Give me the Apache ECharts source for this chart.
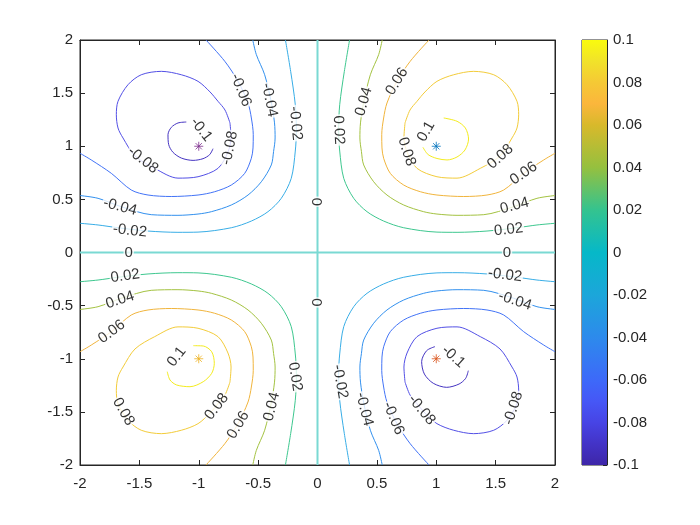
<!DOCTYPE html>
<html><head><meta charset="utf-8">
<script src="https://cdn.jsdelivr.net/npm/echarts@6/dist/echarts.min.js"></script>
<style>html,body{margin:0;padding:0;background:#fff}#c{width:700px;height:525px}</style>
</head><body><div id="c"></div>
<script>
// Contour lines (upper-right quadrant, positive levels).
// The field is odd in x and in y, so the other quadrants are the mirror images.
const c002 = [[0.27,2.0],[0.226,1.705],[0.187,1.391],[0.178,1.15],[0.187,0.955],[0.221,0.698],[0.305,0.510],[0.417,0.384],[0.557,0.296],[0.726,0.233],[1.006,0.192],[1.175,0.19],[1.427,0.202],[1.68,0.233],[1.848,0.259],[2.0,0.275]];
const c004 = [[0.545,2.0],[0.515,1.862],[0.445,1.673],[0.39,1.42],[0.362,1.22],[0.357,1.078],[0.37,0.95],[0.389,0.824],[0.473,0.666],[0.585,0.541],[0.726,0.447],[0.894,0.384],[1.006,0.362],[1.175,0.350],[1.40,0.356],[1.65,0.43],[1.848,0.510],[2.0,0.536]];
const c006 = [[0.939,2.0],[0.781,1.80],[0.669,1.611],[0.585,1.407],[0.557,1.266],[0.541,1.109],[0.543,0.984],[0.557,0.887],[0.613,0.745],[0.726,0.635],[0.866,0.572],[1.006,0.541],[1.231,0.527],[1.427,0.541],[1.568,0.588],[1.736,0.745],[1.905,0.871],[2.0,0.934]];
const c008 = [[0.737,1.219],[0.779,1.341],[0.838,1.423],[0.905,1.511],[1.006,1.611],[1.147,1.673],[1.315,1.705],[1.484,1.673],[1.596,1.579],[1.680,1.423],[1.694,1.297],[1.680,1.172],[1.638,1.078],[1.537,0.908],[1.371,0.792],[1.175,0.700],[1.006,0.713],[0.838,0.792],[0.754,0.946],[0.728,1.078],[0.737,1.219]];
// Innermost (+/-0.1) arcs, read per quadrant (gap where the label sits)
const c010UR = [[1.063,1.266],[1.175,1.235],[1.245,1.172],[1.272,1.068],[1.242,0.965],[1.175,0.899],[1.091,0.871],[1.006,0.885],[0.931,0.922],[0.888,0.99]];
const c010UL = [[-1.105,1.228],[-1.175,1.219],[-1.231,1.178],[-1.259,1.109],[-1.253,1.015],[-1.217,0.943],[-1.147,0.889],[-1.048,0.867],[-0.964,0.883],[-0.908,0.921],[-0.880,0.977]];
const c010LL = [[-1.046,-0.877],[-0.962,-0.880],[-0.891,-0.934],[-0.869,-1.043],[-0.891,-1.137],[-0.962,-1.216],[-1.074,-1.263],[-1.186,-1.247],[-1.242,-1.2],[-1.265,-1.122]];
const c010LR = [[0.989,-0.886],[0.919,-0.924],[0.877,-1.027],[0.9,-1.144],[0.975,-1.231],[1.088,-1.269],[1.192,-1.238],[1.248,-1.184],[1.270,-1.112]];
const zeroV = [[0,-2],[0,2]];
const zeroH = [[-2,0],[2,0]];

// Marked extrema
const starPts = [[1,1],[-1,1],[-1,-1],[1,-1]];

// Inline contour labels
const labelText = ['0.06','0.04','0.02','0.1','0.08','0.08','0.06','0.04','0.02','0','0',
 '-0.06','-0.04','-0.02','-0.1','-0.08','-0.08','-0.04','-0.02','0',
 '0.02','0.04','0.06','0.1','0.08','0.08','0.06','0.04','0.02','0',
 '-0.02','-0.04','-0.1','-0.08','-0.08','-0.06','-0.04','-0.02'];
const labelPos = [[0.669,1.611],[0.39,1.42],[0.178,1.153],[0.915,1.14],[0.751,0.949],[1.539,0.902],[1.736,0.745],[1.66,0.44],[1.61,0.215],[1.596,0],[0,0.478],
 [-0.645,1.529],[-0.405,1.435],[-0.185,1.216],[-0.979,1.156],[-0.74,0.984],[-1.47,0.87],[-1.663,0.43],[-1.58,0.205],[-1.59,0],
 [-1.62,-0.222],[-1.663,-0.447],[-1.733,-0.745],[-1.186,-0.981],[-1.635,-1.498],[-0.849,-1.451],[-0.667,-1.624],[-0.386,-1.451],[-0.189,-1.169],[0,-0.47],
 [1.579,-0.212],[1.663,-0.455],[1.144,-0.981],[0.877,-1.482],[1.649,-1.466],[0.64,-1.56],[0.394,-1.476],[0.189,-1.216]];
const labelAngle = [58,74,-87,60,-72,42,35,15,6,0,90,
 -68,-79,-84,-52,78,-38,-15,-6,0,
 8,18,37,52,-60,52,59,76,-81,90,
 -7,-18,-42,-51,72,-67,-76,-80];

// Colours
const levelColor = {
  '-0.1':'#4534c2','-0.08':'#5350e6','-0.06':'#4273f6','-0.04':'#3290ee','-0.02':'#38ade6',
  '0':'#7ad9d3','0.02':'#3ec78f','0.04':'#a3c241','0.06':'#f0b43c','0.08':'#f3cc3a','0.1':'#f4ec1e'
};
const starColor = ['#0072bd','#7e2f8e','#edb120','#d95319'];
const parulaStops = [
  [0.00,'#3e26a8'],[0.05,'#4333c7'],[0.10,'#4744e5'],[0.15,'#4657f6'],[0.20,'#3d69f9'],
  [0.30,'#2d8aec'],[0.40,'#1ca6da'],[0.50,'#06b8c8'],[0.60,'#34c38f'],[0.70,'#95c03f'],
  [0.80,'#d8b92b'],[0.85,'#fbb63c'],[0.90,'#f5c935'],[0.95,'#f1e22a'],[1.00,'#f9fb0e']
];

const series = [];
function addLine(data, level, width){
  series.push({type:'line', xAxisIndex:0, yAxisIndex:0, data:data, smooth:0.3,
    showSymbol:false, symbol:'none', silent:true, animation:false, z:2,
    lineStyle:{color:levelColor[String(level)], width:width||1}});
}
const quads = [[1,1,1],[-1,1,-1],[-1,-1,1],[1,-1,-1]];
const upPaths = [[c002,0.02],[c004,0.04],[c006,0.06],[c008,0.08]];
quads.forEach(q=>{
  upPaths.forEach(([p,lv])=>{
    const lvl = Math.round(lv*q[2]*100)/100;
    addLine(p.map(v=>[v[0]*q[0], v[1]*q[1]]), lvl);
  });
});
addLine(c010UR, 0.1); addLine(c010UL, -0.1); addLine(c010LL, 0.1); addLine(c010LR, -0.1);
addLine(zeroV, 0, 2); addLine(zeroH, 0, 2);

series.push({type:'scatter', xAxisIndex:0, yAxisIndex:0, silent:true, animation:false, z:5,
  symbolSize:1, itemStyle:{color:'rgba(0,0,0,0)'},
  data: labelText.map((t,i)=>({name:t, value:labelPos[i], label:{rotate:labelAngle[i]}})),
  label:{show:true, position:'inside', formatter:'{b}', fontSize:15, fontFamily:'Liberation Sans, Arial, sans-serif',
    color:'#000', backgroundColor:'#fff', padding:[0,1], lineHeight:15}
});
series.push({type:'scatter', xAxisIndex:0, yAxisIndex:0, silent:true, animation:false, z:6,
  symbol:'path://M5 0L5 10M0 5L10 5M1.5 1.5L8.5 8.5M1.5 8.5L8.5 1.5', symbolSize:9,
  data: starPts.map((p,i)=>({value:p, itemStyle:{color:'rgba(0,0,0,0)', borderColor:starColor[i], borderWidth:1}}))
});
// colorbar
series.push({type:'line', xAxisIndex:2, yAxisIndex:2, data:[[0,-0.1],[1,0.1]], showSymbol:false, symbol:'none',
  lineStyle:{opacity:0}, silent:true, animation:false,
  markArea:{silent:true, itemStyle:{color:{type:'linear', x:0, y:1, x2:0, y2:0,
      colorStops: parulaStops.map(s=>({offset:s[0], color:s[1]}))}},
    data:[[{coord:[0,-0.1]},{coord:[1,0.1]}]]}
});

const axCol = '#262626';
const font = 'Liberation Sans, Arial, sans-serif';
const mainAxis = (pos, labels, margin)=>({gridIndex:0, type:'value', min:-2, max:2, interval:0.5, position:pos,
  axisLine:{show:true, onZero:false, lineStyle:{color:axCol, width:1}},
  axisTick:{show:true, inside:true, length:5, lineStyle:{color:axCol}},
  axisLabel:{show:labels, fontSize:15, color:axCol, fontFamily:font, margin:margin},
  splitLine:{show:false}});

const chart = echarts.init(document.getElementById('c'), null, {renderer:'canvas'});
chart.setOption({
  animation:false,
  backgroundColor:'#fff',
  grid:[{left:80, top:40, width:475, height:425, show:true, borderColor:axCol, borderWidth:1, backgroundColor:'#fff'},
        {left:582, top:40, width:25, height:425, show:true, borderColor:axCol, borderWidth:1}],
  xAxis:[mainAxis('bottom', true, 11), mainAxis('top', false, 8),
    {gridIndex:1, type:'value', min:0, max:1, show:false}],
  yAxis:[mainAxis('left', true, 7), mainAxis('right', false, 8),
    {gridIndex:1, type:'value', min:-0.1, max:0.1, interval:0.02, position:'right',
     axisLine:{show:true, onZero:false, lineStyle:{color:axCol, width:1}},
     axisTick:{show:true, inside:true, length:4, lineStyle:{color:axCol}},
     axisLabel:{fontSize:15, color:axCol, fontFamily:font, margin:6},
     splitLine:{show:false}}],
  series: series
});
</script></body></html>
